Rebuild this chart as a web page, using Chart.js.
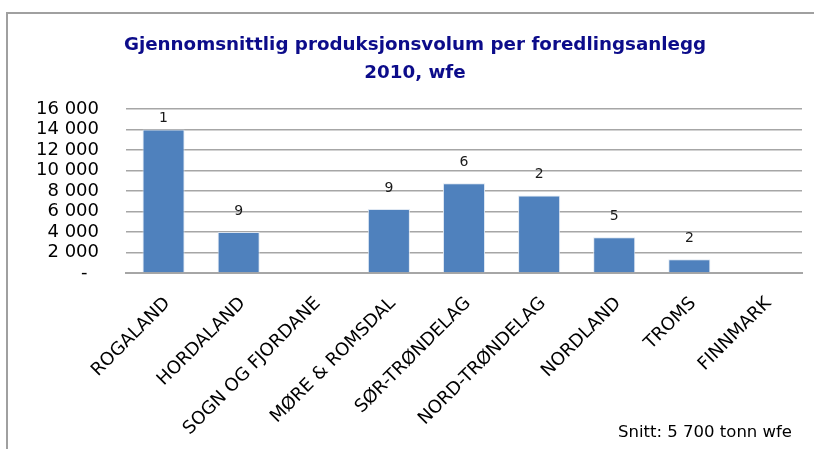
<!DOCTYPE html>
<html>
<head>
<meta charset="utf-8">
<script src="https://cdn.jsdelivr.net/npm/chart.js@4.4.1/dist/chart.umd.min.js"></script>
<style>
    html, body { margin: 0; padding: 0; background: #fff; }
    #wrap { position: relative; width: 814px; height: 449px; }
    #frame {
        position: absolute; left: 6px; top: 12px; right: 0; bottom: 0;
        border-top: 2px solid #a0a0a0; border-left: 2px solid #a0a0a0;
    }
    canvas { position: absolute; left: 0; top: 0; }
</style>
</head>
<body>
<div id="wrap">
    <div id="frame"></div>
    <canvas id="chart" width="814" height="449"></canvas>
</div>
<script>
// Data
const fylker = ['ROGALAND', 'HORDALAND', 'SOGN OG FJORDANE', 'MØRE & ROMSDAL', 'SØR-TRØNDELAG',
    'NORD-TRØNDELAG', 'NORDLAND', 'TROMS', 'FINNMARK'];
const volum = [14000, 4000, null, 6250, 8750, 7550, 3500, 1350, null];   // tonn wfe per anlegg
const antallAnlegg = [1, 9, null, 9, 6, 2, 5, 2, null];                 // label over each bar
const yTicks = [0, 2000, 4000, 6000, 8000, 10000, 12000, 14000, 16000];
const yTickLabels = ['-', '2 000', '4 000', '6 000', '8 000', '10 000', '12 000', '14 000', '16 000'];
const tittel = ['Gjennomsnittlig produksjonsvolum per foredlingsanlegg', '2010, wfe'];
const fotnote = 'Snitt: 5 700 tonn wfe';

const FONT = '"DejaVu Sans", sans-serif';

// number of plants above each bar
const countLabels = {
    id: 'countLabels',
    afterDatasetsDraw(chart) {
        const ctx = chart.ctx;
        const meta = chart.getDatasetMeta(0);
        ctx.save();
        ctx.font = '14px ' + FONT;
        ctx.fillStyle = '#1a1a1a';
        ctx.textAlign = 'center';
        ctx.textBaseline = 'middle';
        meta.data.forEach((bar, i) => {
            if (antallAnlegg[i] == null) return;
            const y = Math.max(bar.y - 21, chart.chartArea.top + 9);
            ctx.fillText(String(antallAnlegg[i]), bar.x, y);
        });
        ctx.restore();
    }
};

// title (centred on the frame, not on the plot) and the footnote
const texts = {
    id: 'texts',
    afterDraw(chart) {
        const ctx = chart.ctx;
        ctx.save();
        ctx.textBaseline = 'middle';
        ctx.textAlign = 'center';
        ctx.fillStyle = '#0c0c8a';
        ctx.font = 'bold 18.3px ' + FONT;
        tittel.forEach((line, i) => ctx.fillText(line, 415, 45 + i * 28));

        ctx.font = '16.5px ' + FONT;
        ctx.fillStyle = '#000';
        ctx.textAlign = 'right';
        ctx.fillText(fotnote, chart.width - 22, 433);
        ctx.restore();
    }
};

new Chart(document.getElementById('chart'), {
    type: 'bar',
    data: {
        labels: fylker,
        datasets: [{
            data: volum,
            backgroundColor: '#4f81bd',
            borderColor: 'rgba(220,230,242,0.9)',
            borderWidth: 1,
            categoryPercentage: 1,
            barPercentage: 0.56
        }]
    },
    options: {
        responsive: false,
        animation: false,
        layout: { padding: { top: 109, right: 12, left: 0, bottom: 0 } },
        scales: {
            x: {
                grid: { display: false, drawTicks: false },
                border: { color: '#a6a6a6', width: 2 },
                ticks: {
                    color: '#000',
                    font: { family: FONT, size: 18 },
                    minRotation: 45,
                    maxRotation: 45,
                    autoSkip: false,
                    padding: 20,
                    labelOffset: 4
                },
                afterFit(scale) { scale.height = 176; }
            },
            y: {
                min: 0,
                max: 16000,
                afterBuildTicks(scale) { scale.ticks = yTicks.map(v => ({ value: v })); },
                grid: { color: '#a6a6a6', lineWidth: 1.5, drawTicks: false },
                border: { display: false },
                ticks: {
                    color: '#000',
                    autoSkip: false,
                    font: { family: FONT, size: 18 },
                    padding: 27,
                    callback: (v) => {
                        const i = yTicks.indexOf(v);
                        return i === 0 ? yTickLabels[0] + '\u2007' : yTickLabels[i];
                    }
                },
                afterFit(scale) { scale.width = 126; }
            }
        },
        plugins: {
            legend: { display: false },
            tooltip: { enabled: false },
            title: { display: false }
        }
    },
    plugins: [countLabels, texts]
});
</script>
</body>
</html>
